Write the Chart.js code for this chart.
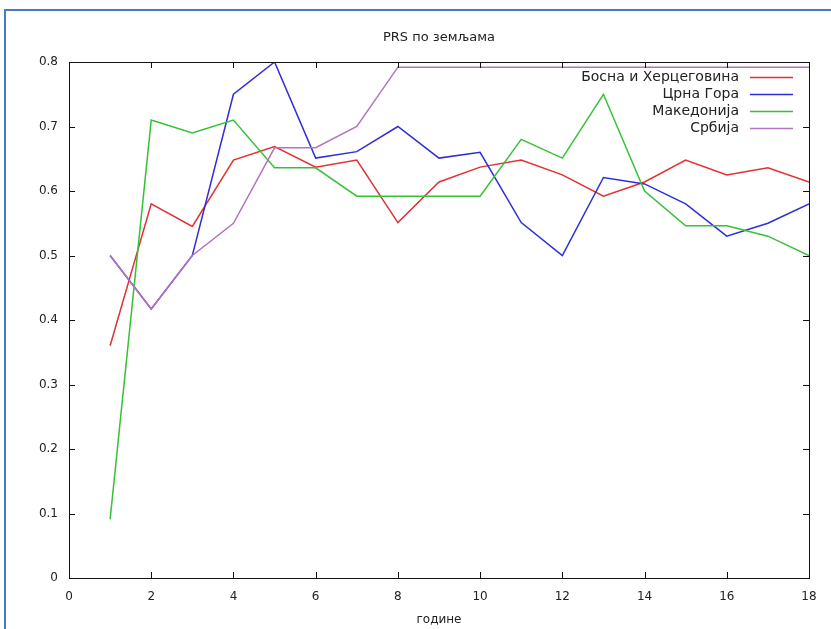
<!DOCTYPE html>
<html>
<head>
<meta charset="utf-8">
<script src="https://cdn.jsdelivr.net/npm/chart.js@4"></script>
<style>
  html, body { margin: 0; padding: 0; background: #fff; }
  #wrap { position: relative; width: 831px; height: 629px; }
  #frame { position: absolute; left: 4px; top: 9px; right: -2px; bottom: -2px;
           border-left: 2px solid #4a78c8; border-top: 2px solid #4a78c8; pointer-events: none; }
</style>
</head>
<body>
<div id="wrap">
  <canvas id="myChart" width="831" height="629"></canvas>
  <div id="frame"></div>
</div>
<script>
// подаци
const years = [1, 2, 3, 4, 5, 6, 7, 8, 9, 10, 11, 12, 13, 14, 15, 16, 17, 18];
const names = ['Босна и Херцеговина', 'Црна Гора', 'Македонија', 'Србија'];
const bih = [0.36, 0.58, 0.545, 0.648, 0.669, 0.637, 0.648, 0.551, 0.614, 0.637, 0.648, 0.625, 0.592, 0.614, 0.648, 0.625, 0.636, 0.614];
const cg  = [0.5, 0.417, 0.5, 0.75, 0.8, 0.651, 0.661, 0.7, 0.651, 0.66, 0.551, 0.5, 0.621, 0.611, 0.58, 0.53, 0.55, 0.58];
const mk  = [0.091, 0.71, 0.69, 0.71, 0.636, 0.636, 0.592, 0.592, 0.592, 0.592, 0.68, 0.651, 0.75, 0.6, 0.546, 0.546, 0.53, 0.5];
const srb = [0.5, 0.417, 0.5, 0.55, 0.667, 0.667, 0.7, 0.792, 0.792, 0.792, 0.792, 0.792, 0.792, 0.792, 0.792, 0.792, 0.792, 0.792];
const colors = ['#e23030', '#2e2ed8', '#38c038', '#b474bc'];

const series = [bih, cg, mk, srb];

function toPoints(vals) {
    return vals.map((v, i) => ({ x: years[i], y: v }));
}

// оквир, подеоци и легенда у стилу gnuplot-а
const gnuplotStyle = {
    id: 'gnuplotStyle',
    afterDraw(chart) {
        const ctx = chart.ctx;
        const a = chart.chartArea;
        const xs = chart.scales.x, ys = chart.scales.y;
        ctx.save();
        ctx.strokeStyle = '#111';
        ctx.lineWidth = 1;
        ctx.strokeRect(Math.round(a.left) + 0.5, Math.round(a.top) + 0.5, Math.round(a.right - a.left), Math.round(a.bottom - a.top));
        const tl = 6;
        ctx.beginPath();
        xs.ticks.forEach(t => {
            const px = Math.round(xs.getPixelForValue(t.value)) + 0.5;
            ctx.moveTo(px, a.bottom); ctx.lineTo(px, a.bottom - tl);
            ctx.moveTo(px, a.top); ctx.lineTo(px, a.top + tl);
        });
        ys.ticks.forEach(t => {
            const py = Math.round(ys.getPixelForValue(t.value)) + 0.5;
            ctx.moveTo(a.left, py); ctx.lineTo(a.left + tl, py);
            ctx.moveTo(a.right, py); ctx.lineTo(a.right - tl, py);
        });
        ctx.stroke();

        // наслов
        ctx.fillStyle = '#222';
        ctx.font = '13px "DejaVu Sans"';
        ctx.textAlign = 'center';
        ctx.textBaseline = 'middle';
        ctx.fillText('PRS по земљама', (a.left + a.right) / 2, 38);

        // легенда
        ctx.font = '14px "DejaVu Sans"';
        ctx.textAlign = 'right';
        names.forEach((name, i) => {
            const y = a.top + 15 + i * 17;
            ctx.fillStyle = '#222';
            ctx.fillText(name, a.right - 70, y);
            ctx.strokeStyle = colors[i];
            ctx.lineWidth = 1.4;
            ctx.beginPath();
            ctx.moveTo(a.right - 59, y + 0.5);
            ctx.lineTo(a.right - 16, y + 0.5);
            ctx.stroke();
        });
        ctx.restore();
    }
};

var ctx = document.getElementById('myChart').getContext('2d');
var myChart = new Chart(ctx, {
    type: 'line',
    data: {
        datasets: series.map((s, i) => ({
            label: names[i],
            data: toPoints(s),
            borderColor: colors[i],
            backgroundColor: colors[i],
            borderWidth: 1.5,
            pointRadius: 0,
            tension: 0,
            fill: false,
            order: series.length - i   // каснија серија иде преко
        }))
    },
    options: {
        responsive: false,
        animation: false,
        layout: { padding: { top: 62, right: 22, left: 0, bottom: 0 } },
        plugins: {
            legend: { display: false },
            title: { display: false },
            tooltip: { enabled: false }
        },
        scales: {
            x: {
                type: 'linear',
                min: 0, max: 18,
                ticks: { stepSize: 2, padding: 12, color: '#222', font: { family: 'DejaVu Sans', size: 12 } },
                grid: { display: false, drawTicks: false },
                border: { display: false },
                title: { display: true, text: 'године', color: '#222', font: { family: 'DejaVu Sans', size: 12 }, padding: { top: 0, bottom: 2 } },
                afterFit: s => { s.height = 51; }
            },
            y: {
                min: 0, max: 0.8,
                ticks: { stepSize: 0.1, padding: 11, color: '#222', font: { family: 'DejaVu Sans', size: 12 } },
                grid: { display: false, drawTicks: false },
                border: { display: false },
                afterFit: s => { s.width = 69; }
            }
        }
    },
    plugins: [gnuplotStyle]
});
</script>
</body>
</html>
